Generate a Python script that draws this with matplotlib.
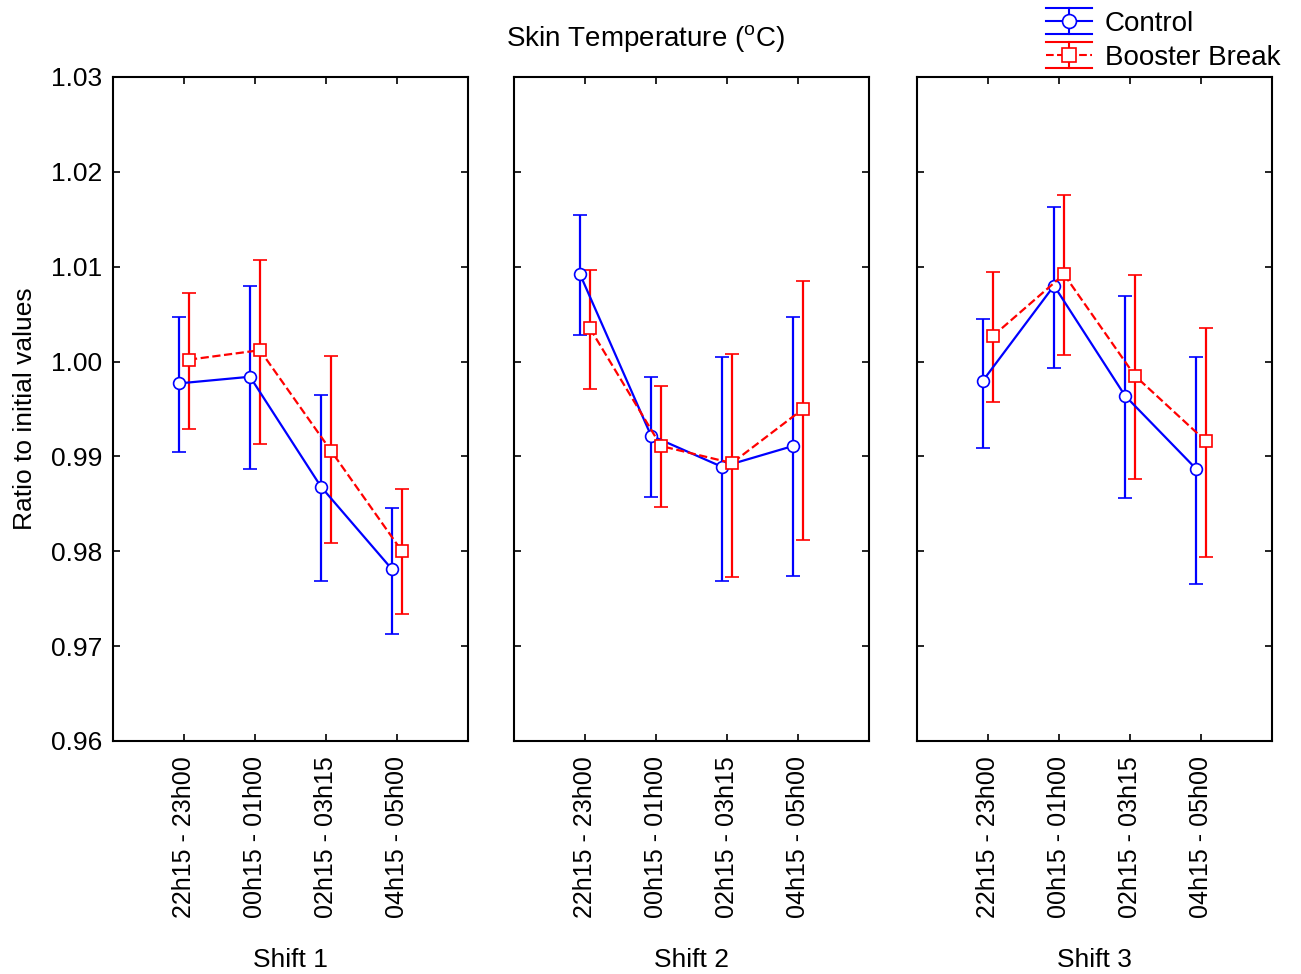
import matplotlib.pyplot as plt
import numpy as np
from matplotlib.legend_handler import HandlerBase
from matplotlib.lines import Line2D

plt.rcParams['font.family'] = ['Liberation Sans', 'DejaVu Sans']

periods = ["22h15 - 23h00", "00h15 - 01h00", "02h15 - 03h15", "04h15 - 05h00"]
shifts = ["Shift 1", "Shift 2", "Shift 3"]

# means and error bar limits per shift
control_mean = [[0.9977, 0.9984, 0.9868, 0.9781],
                [1.0092, 0.9922, 0.9889, 0.9911],
                [0.9980, 1.0080, 0.9964, 0.9887]]
control_hi = [[1.0047, 1.0080, 0.9965, 0.9846],
              [1.0155, 0.9984, 1.0005, 1.0047],
              [1.0045, 1.0163, 1.0069, 1.0005]]
control_lo = [[0.9905, 0.9887, 0.9769, 0.9713],
              [1.0028, 0.9857, 0.9769, 0.9774],
              [0.9909, 0.9993, 0.9856, 0.9766]]

booster_mean = [[1.0002, 1.0012, 0.9906, 0.9800],
                [1.0035, 0.9911, 0.9893, 0.9950],
                [1.0027, 1.0092, 0.9985, 0.9916]]
booster_hi = [[1.0072, 1.0107, 1.0006, 0.9866],
              [1.0097, 0.9974, 1.0008, 1.0085],
              [1.0094, 1.0176, 1.0091, 1.0035]]
booster_lo = [[0.9929, 0.9913, 0.9809, 0.9734],
              [0.9971, 0.9847, 0.9773, 0.9812],
              [0.9957, 1.0007, 0.9876, 0.9794]]

BLUE = '#0000ff'
RED = '#ff0000'
FS = 19


class HandlerBars(HandlerBase):
    # legend key: line + marker, vertical bar, long caps above and below
    def create_artists(self, legend, orig_handle, xdescent, ydescent, width, height, fontsize, trans):
        c = orig_handle.get_color()
        x0, x1 = -xdescent, -xdescent + width
        xm = (x0 + x1) / 2
        ym = -ydescent + height / 2
        ext = 9.3
        line = Line2D([x0, x1], [ym, ym], color=c, lw=1.5, ls=orig_handle.get_linestyle())
        vbar = Line2D([xm, xm], [ym - ext, ym + ext], color=c, lw=1.5)
        top = Line2D([x0, x1], [ym + ext, ym + ext], color=c, lw=1.5)
        bot = Line2D([x0, x1], [ym - ext, ym - ext], color=c, lw=1.5)
        mk = Line2D([xm], [ym], ls='none', marker=orig_handle.get_marker(), ms=10,
                    mfc='white', mec=c, mew=1.2)
        arts = [line, vbar, top, bot, mk]
        for a in arts:
            a.set_transform(trans)
        return arts


fig = plt.figure(figsize=(13.01, 9.74), dpi=100)
lefts = [113, 514, 917]
x = np.arange(len(periods))
off = 0.07
for k in range(3):
    ax = fig.add_axes([lefts[k] / 1301, 1 - 741 / 974, 355 / 1301, 664 / 974])
    cm = np.array(control_mean[k])
    bm = np.array(booster_mean[k])
    ax.errorbar(x - off, cm, yerr=[cm - np.array(control_lo[k]), np.array(control_hi[k]) - cm],
                color=BLUE, lw=1.6, capsize=5, capthick=1.6, marker='o', ms=8.5,
                mfc='white', mec=BLUE, mew=1.2, zorder=3)
    eb = ax.errorbar(x + off, bm, yerr=[bm - np.array(booster_lo[k]), np.array(booster_hi[k]) - bm],
                     color=RED, lw=1.6, ls='--', capsize=5, capthick=1.6, marker='s', ms=8.5,
                     mfc='white', mec=RED, mew=1.2, zorder=3)
    eb[2][0].set_linestyle('-')
    ax.set_xlim(-1, 4)
    ax.set_ylim(0.96, 1.03)
    yt = np.arange(0.96, 1.0301, 0.01)
    ax.set_yticks(yt)
    ax.set_xticks(x)
    ax.set_xticklabels(periods, rotation=90, fontsize=18)
    ax.tick_params(direction='in', top=True, right=True, length=5, width=1.2)
    ax.tick_params(axis='x', pad=11)
    ax.tick_params(axis='y', labelsize=FS, pad=8)
    if k == 0:
        ax.set_yticklabels(["%.2f" % v for v in yt])
        ax.set_ylabel("Ratio to initial values", fontsize=FS, labelpad=10)
    else:
        ax.set_yticklabels([])
    for s in ax.spines.values():
        s.set_linewidth(1.5)
    fig.text((lefts[k] + 177.5) / 1301, (974 - 960) / 974, shifts[k],
             ha='center', va='center', fontsize=FS)

fig.text(645 / 1301, 1 - 38 / 974, "Skin Temperature ($\\mathregular{^o}$C)",
         ha='center', va='center', fontsize=20)

proxies = [Line2D([], [], color=BLUE, ls='-', marker='o'),
           Line2D([], [], color=RED, ls='--', marker='s')]
fig.legend(proxies, ["Control", "Booster Break"], loc='upper right',
           bbox_to_anchor=(1301 / 1301, 1.0103), frameon=False, fontsize=20,
           handlelength=1.65, handleheight=0.7, borderpad=0.25, labelspacing=0.28,
           handletextpad=0.45, handler_map={Line2D: HandlerBars()})

fig.savefig("out.png", dpi=100)
